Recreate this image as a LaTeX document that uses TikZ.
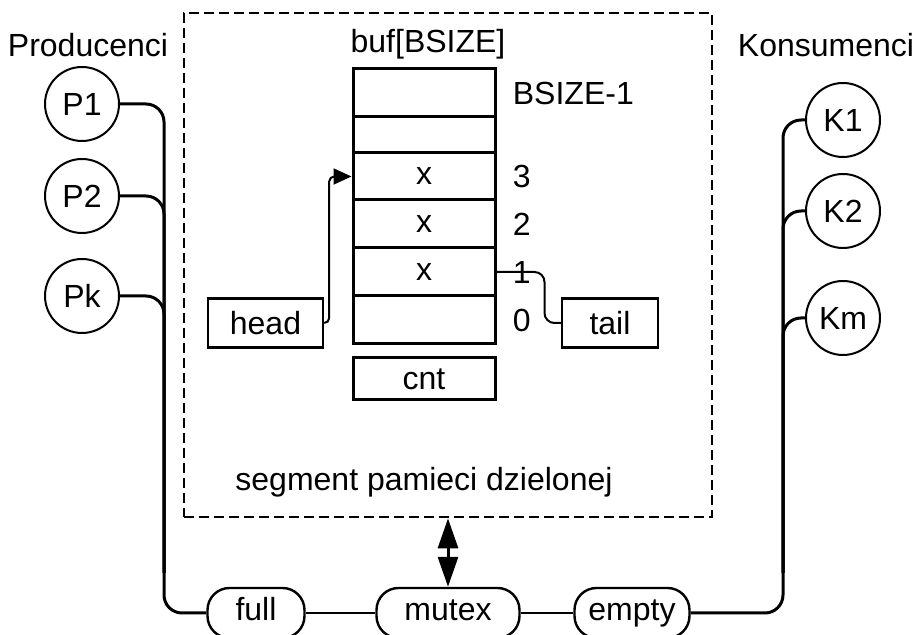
\documentclass[tikz,border=0pt]{standalone}
\usepackage{fontspec}
\setmainfont{Liberation Sans}
\usetikzlibrary{arrows.meta,positioning}

\begin{document}
\begin{tikzpicture}[x=0.5pt,y=-0.5pt,font=\fontsize{16}{19}\selectfont]
        \tikzset{proc/.style = {shape=circle,draw,line width=1pt,minimum size=37pt,inner sep=0pt}}
        \tikzset{cell/.style = {draw,line width=1.5pt,minimum width=71pt,inner sep=0pt}}
        \tikzset{var/.style = {draw,line width=1.2pt,minimum height=24.5pt,inner sep=0pt}}
        \tikzset{sem/.style = {draw,rounded corners=11pt,line width=1.2pt,minimum height=25pt,inner sep=0pt,text height=0.72em,text depth=0pt}}
        \tikzset{wire/.style = {line width=1.5pt,rounded corners=9pt}}
        \tikzset{ptr/.style = {-{Triangle[length=9pt,width=8pt]},line width=1pt,rounded corners=2.5pt}}

        \useasboundingbox (0,0) rectangle (917,635);

        % shared memory
        \node[draw,dash pattern=on 5pt off 2.5pt,line width=1.4pt,minimum width=264pt,minimum height=252pt] (shm) at (448,265) {};
        \node (segtxt) at (424,482) {segment pamieci dzielonej};
        \node (buf) at (428,44) {buf[BSIZE]};

        % buffer cells
        \foreach \n/\y/\h/\t in {c0/93/24/{},c1/135/18/{},c2/176.5/23.5/x,c3/224/24/x,c4/272/24/x,c5/320/24/{}}
            \node[cell,minimum height=\h pt] (\n) at (424,\y) {\t};
        \node[cell,minimum height=21pt] (cnt) at (424,379) {cnt};

        \foreach \n/\l in {c0/BSIZE-1,c2/3,c3/2,c4/1,c5/0}
            \node[anchor=west,inner sep=0pt] (l\n) at ([xshift=8pt]\n.east) {\l};

        \node[var,minimum width=57.5pt] (head) at (265.5,323) {head};
        \node[var,minimum width=48pt] (tail) at (610,323) {tail};

        % processes
        \node (prod) at (88,45) {Producenci};
        \node (kons) at (826,45) {Konsumenci};
        \node[proc] (P1) at (82,104) {P1};
        \node[proc] (P2) at (82,196) {P2};
        \node[proc] (Pk) at (82,296) {Pk};
        \node[proc] (K1) at (843,120) {K1};
        \node[proc] (K2) at (843,211) {K2};
        \node[proc] (Km) at (843,318) {Km};

        % semaphores
        \node[sem,minimum width=48.5pt] (full) at (256,613) {full};
        \node[sem,minimum width=71.5pt] (mutex) at (448,613) {mutex};
        \node[sem,minimum width=57.5pt] (empty) at (632,613) {empty};

        %edges
        \coordinate (lbus) at (164,613);
        \coordinate (rbus) at (783,613);
        \draw[wire] (P1.east) -| (lbus) -- (full.west);
        \foreach \p in {P2,Pk}
            \draw[wire] (\p.east) -| ([yshift=20pt]lbus);
        \draw[wire] (K1.west) -| (rbus) -- (empty.east);
        \foreach \k in {K2,Km}
            \draw[wire] (\k.west) -| ([yshift=20pt]rbus);
        \draw[line width=1pt] (full) -- (mutex) -- (empty);

        \draw[{Triangle[length=15pt,width=10pt]}-{Triangle[length=15pt,width=10pt]},line width=1.5pt] (shm.south) -- (mutex.north);

        \draw[ptr] (head.east) -- ++(5,0) |- (c2.west);
        \draw[line width=1pt,rounded corners=5pt] (c4.east) -- ++(48,0) |- (tail.west);

    \end{tikzpicture}
\end{document}
